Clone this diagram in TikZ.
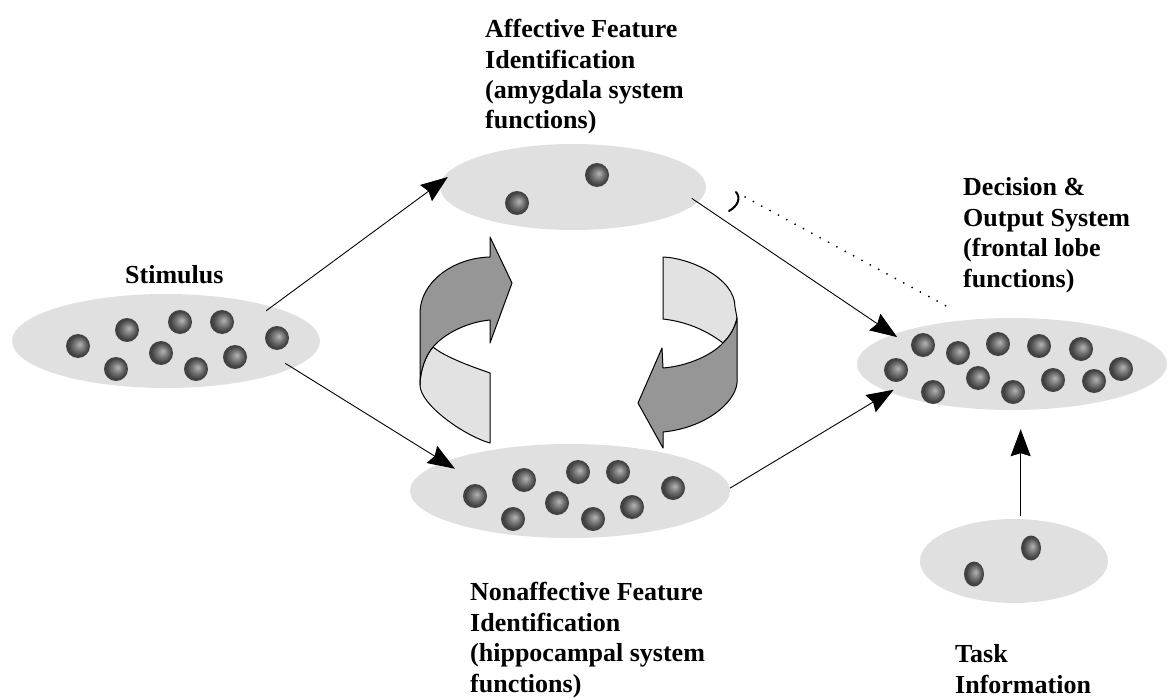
\documentclass[tikz,border=0pt]{standalone}
\usepackage{fontspec}
\setmainfont{Liberation Serif}
\usetikzlibrary{arrows.meta,shapes.geometric}
\definecolor{ellgray}{HTML}{E0E0E0}
\definecolor{dkband}{HTML}{969696}
\definecolor{ltband}{HTML}{E2E2E2}
\pgfdeclareradialshading{refball}{\pgfpoint{4bp}{4bp}}{color(0bp)=(black!30); color(4bp)=(black!38); color(13bp)=(black!58); color(21bp)=(black!74); color(30bp)=(black!74)}
\begin{document}
\begin{tikzpicture}[x=1pt,y=-1pt,
  region/.style={ellipse, fill=ellgray, draw=none, inner sep=0pt},
  lbl/.style={font=\bfseries\fontsize{26}{30.5}\selectfont, align=left, anchor=base west, inner sep=0pt},
  conn/.style={line width=0.9pt, -{Stealth[length=27pt,width=20pt,inset=3pt]}},
  band/.style={draw=black, line width=1pt, line join=round},
  sphere/.style={shading=refball}
]
\useasboundingbox (0,0) rectangle (1167,698);

% regions
\node[region, minimum width=308, minimum height=94] (stim) at (166,341) {};
\node[region, minimum width=266, minimum height=86] (aff) at (573,187) {};
\node[region, minimum width=320, minimum height=94] (nonaff) at (570,491) {};
\node[region, minimum width=310, minimum height=92] (dec) at (1012,364) {};
\node[region, minimum width=188, minimum height=84] (task) at (1014,561) {};

% balls
\foreach \p in {(78,346),(127,330),(180,322),(222,322),(277,338),(116,369),(161,353),(196,369),(235,357),
                (517,203),(597,175),
                (475,496),(524,480),(578,472),(618,472),(673,488),(513,519),(557,503),(593,519),(632,507),
                (923,345),(958,353),(998,344),(1039,346),(1081,349),(896,370),(978,378),(933,392),(1013,392),(1053,380),(1094,381),(1121,369)}
  \shade[sphere] \p circle[radius=12];
\shade[sphere] (1031,548) ellipse[x radius=10, y radius=12.5];
\shade[sphere] (974,574) ellipse[x radius=10, y radius=12.5];

% labels (anchor base = baseline of last line)
\node[lbl] (stimt) at (125,283) {Stimulus};
\node[lbl] (afft) at (485,129) {Affective Feature\\Identification\\(amygdala system\\functions)};
\node[lbl] (dect) at (963,287) {Decision \&\\Output System\\(frontal lobe\\functions)};
\node[lbl] (nonafft) at (470,692) {Nonaffective Feature\\Identification\\(hippocampal system\\functions)};
\node[lbl] (taskt) at (955,693) {Task\\Information};

% connectors
\draw[conn, shorten <=-7pt, shorten >=-9pt] (stim.18) -- (aff.178);
\draw[conn, shorten <=-9pt, shorten >=-13pt] (stim.348) -- (nonaff.167);
\draw[conn, shorten <=-7pt, shorten >=-5pt] (aff.353) -- (dec.166);
\draw[conn, shorten >=-5pt] (nonaff.1) -- (dec.193);
\draw[conn, shorten <=3pt, shorten >=19pt] (task.81) -- (task.81 |- dec.south);

% dotted link
\coordinate (dotA) at (745,197);
\coordinate (dotB) at (950,308);
\draw[line width=2pt, line cap=round, dash pattern=on 0pt off 9.5pt] (dotA) -- (dotB);
\draw[line width=2pt, line cap=round] (736,192) .. controls (741,198) and (738,206) .. (729,211);

% left circular arrow
\filldraw[band, fill=ltband] (433,347) .. controls (445,357) and (470,366) .. (490,373) -- (490,443)
   .. controls (465,436) and (420,405) .. (420,385) .. controls (420,370) and (426,355) .. (433,347) -- cycle;
\filldraw[band, fill=dkband] (490,257) .. controls (452,258) and (420,283) .. (420,313) -- (420,385)
   .. controls (420,370) and (426,355) .. (433,347) .. controls (445,333) and (468,322) .. (490,320)
   -- (490,343) -- (512,283) -- (490,237) -- cycle;

% right circular arrow
\filldraw[band, fill=ltband] (663,257) .. controls (690,258) and (735,278) .. (735,307) -- (737,318)
   .. controls (735,328) and (730,336) .. (723,343) .. controls (710,333) and (690,322) .. (663,319) -- cycle;
\filldraw[band, fill=dkband] (737,318) -- (737,383) .. controls (735,403) and (705,428) .. (663,432)
   -- (663,448) -- (638,403) -- (662,348) -- (663,368) .. controls (688,366) and (712,355) .. (723,343)
   .. controls (730,336) and (735,328) .. (737,318) -- cycle;
\end{tikzpicture}
\end{document}
